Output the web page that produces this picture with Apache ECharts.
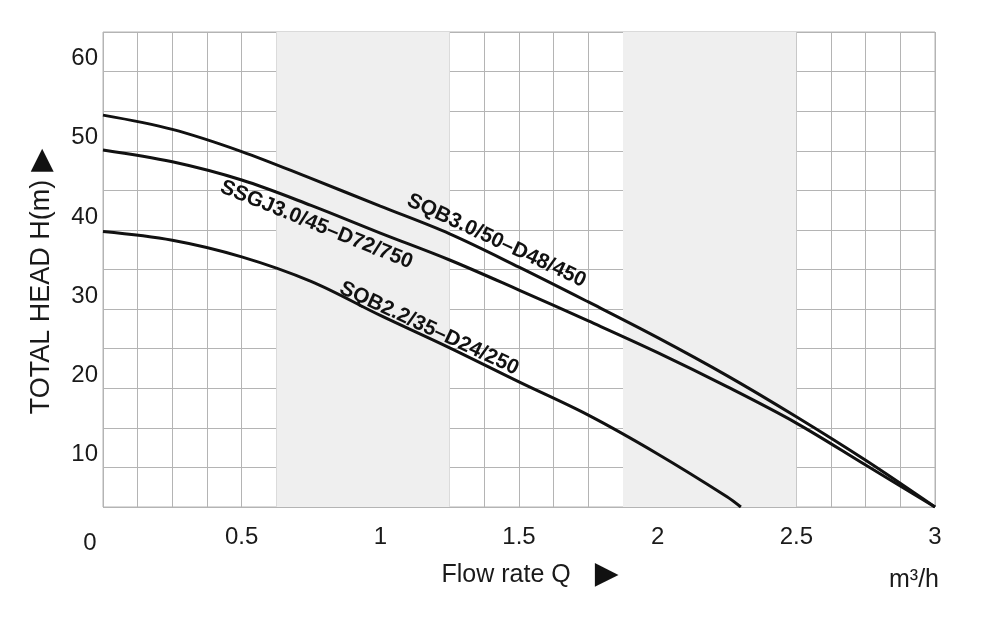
<!DOCTYPE html>
<html>
<head>
<meta charset="utf-8">
<title>Pump curves</title>
<script src="https://cdn.jsdelivr.net/npm/echarts@6/dist/echarts.min.js"></script>
<style>
  html, body { margin: 0; padding: 0; background: #fff; }
  #chart { width: 1000px; height: 643px; }
</style>
</head>
<body>
<div id="chart"></div>
<script>
// flow rate Q (m3/h) and head H (m)
const qFull = [0, 0.25, 0.5, 0.75, 1, 1.25, 1.5, 1.75, 2, 2.25, 2.5, 2.75, 3];
const headSQB30 = [54.5, 52.7, 49.9, 46.5, 43.0, 39.5, 35.3, 30.9, 26.4, 21.6, 16.4, 10.9, 5.0];
const headSSGJ30 = [50.1, 48.6, 46.3, 43.1, 39.6, 36.2, 32.4, 28.5, 24.5, 20.2, 15.6, 10.3, 5.0];
const qShort = [0, 0.25, 0.5, 0.75, 1, 1.25, 1.5, 1.75, 2, 2.25, 2.3];
const headSQB22 = [39.8, 38.7, 36.6, 33.5, 29.2, 25.1, 20.8, 16.6, 11.7, 6.3, 5.0];

const curveNames = ["SQB3.0/50–D48/450", "SSGJ3.0/45–D72/750", "SQB2.2/35–D24/250"];

// shaded flow ranges
const bands = [[0.625, 1.25], [1.875, 2.5]];

const FONT = "'Liberation Sans', Arial, Helvetica, sans-serif";
const GRID_COLOR = "#b4b4b4";

const chart = echarts.init(document.getElementById("chart"), null, { renderer: "canvas" });

const pairs = (xs, ys) => xs.map((x, i) => [x, ys[i]]);

// one curve with its name written along it at one point
const curve = (name, data, labelIndex, labelPos, angle) => ({
  type: "line",
  name: name,
  data: data,
  smooth: 0.35,
  symbol: "circle",
  symbolSize: 1,
  showSymbol: true,
  itemStyle: { color: "rgba(0,0,0,0)", borderWidth: 0 },
  lineStyle: { color: "#111", width: 3 },
  z: 3,
  label: {
    show: true,
    position: labelPos,
    rotate: angle,
    align: "center",
    verticalAlign: "middle",
    fontFamily: FONT,
    fontWeight: "bold",
    fontSize: 21,
    color: "#111",
    formatter: (p) => (p.dataIndex === labelIndex ? name : ""),
  },
  labelLayout: { hideOverlap: false },
  emphasis: { disabled: true },
});

const option = {
  animation: false,
  backgroundColor: "#fff",
  title: {
    text: "m³/h",
    left: 884,
    top: 563,
    textStyle: { fontFamily: FONT, fontSize: 25, fontWeight: "normal", color: "#1a1a1a" },
  },
  grid: {
    left: 103,
    right: 65,
    top: 32,
    bottom: 136,
    show: true,
    borderColor: GRID_COLOR,
    borderWidth: 1,
    backgroundColor: "transparent",
  },
  xAxis: {
    type: "value",
    min: 0,
    max: 3,
    interval: 0.125,
    axisLine: { show: false },
    axisTick: { show: false },
    splitLine: { show: true, lineStyle: { color: GRID_COLOR, width: 1 } },
    axisLabel: {
      margin: 18,
      fontFamily: FONT,
      fontSize: 24,
      color: "#1a1a1a",
      formatter: (v) => {
        if (v === 0) return "{z|0}";
        return v % 0.5 === 0 ? String(v) : "";
      },
      rich: {
        z: { fontFamily: FONT, fontSize: 24, color: "#1a1a1a", padding: [6, 26, 0, 0] },
      },
    },
    name: "{t|Flow rate Q}{s|}{a|▶}",
    nameLocation: "middle",
    nameGap: 52,
    nameTextStyle: {
      padding: [0, 0, 0, 22],
      rich: {
        t: { fontFamily: FONT, fontSize: 25, color: "#1a1a1a" },
        s: { width: 24 },
        a: { fontFamily: "'DejaVu Sans'", fontSize: 31, color: "#111" },
      },
    },
  },
  yAxis: {
    type: "value",
    min: 5,
    max: 65,
    interval: 5,
    axisLine: { show: false },
    axisTick: { show: false },
    splitLine: { show: true, lineStyle: { color: GRID_COLOR, width: 1 } },
    axisLabel: {
      margin: 5,
      fontFamily: FONT,
      fontSize: 24,
      color: "#1a1a1a",
      verticalAlign: "bottom",
      lineHeight: 26,
      formatter: (v) => (v % 10 === 0 ? String(v) : ""),
    },
    name: "{t|TOTAL HEAD H(m)}{s|}{a|▶}",
    nameLocation: "middle",
    nameRotate: 90,
    nameGap: 46,
    nameTextStyle: {
      padding: [0, 24, 0, 0],
      rich: {
        t: { fontFamily: FONT, fontSize: 27, color: "#1a1a1a" },
        s: { width: 8 },
        a: { fontFamily: "'DejaVu Sans'", fontSize: 30, color: "#111" },
      },
    },
  },
  series: [
    {
      type: "line",
      name: "bands",
      data: [],
      z: -1,
      silent: true,
      markArea: {
        silent: true,
        itemStyle: { color: "#efefef" },
        data: bands.map((b) => [{ xAxis: b[0] }, { xAxis: b[1] }]),
      },
    },
    curve(curveNames[0], pairs(qFull, headSQB30), 6, [-22, -26], -25),
    curve(curveNames[1], pairs(qFull, headSSGJ30), 3, [6, 20], -22),
    curve(curveNames[2], pairs(qShort, headSQB22), 5, [-20, -19], -25),
  ],
};

chart.setOption(option);
</script>
</body>
</html>
